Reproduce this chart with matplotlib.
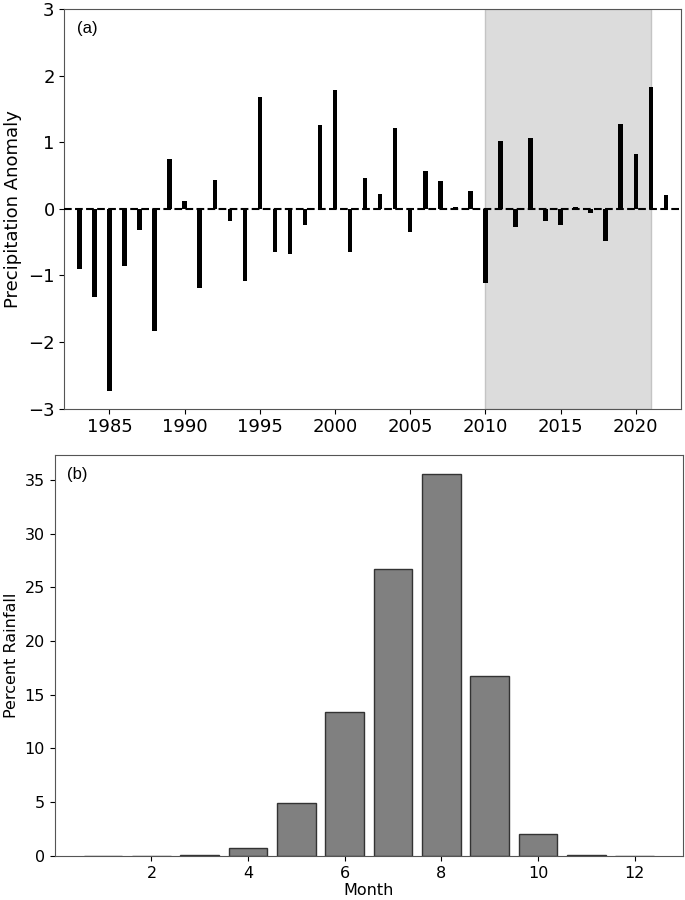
import matplotlib

matplotlib.use("Agg")
import matplotlib.pyplot as plt

# (a) annual precipitation anomaly
years = list(range(1983, 2023))
anomaly = [
    -0.90, -1.33, -2.73, -0.86, -0.32, -1.83, 0.75, 0.12, -1.19, 0.43,
    -0.18, -1.08, 1.68, -0.65, -0.68, -0.24, 1.26, 1.79, -0.65, 0.46,
    0.22, 1.21, -0.35, 0.57, 0.41, 0.03, 0.26, -1.12, 1.02, -0.28,
    1.07, -0.19, -0.25, 0.03, -0.07, -0.49, 1.27, 0.82, 1.83, 0.20,
]
shade_start, shade_end = 2010, 2021

# (b) monthly share of rainfall
months = list(range(1, 13))
percent = [0.0, 0.03, 0.12, 0.78, 4.9, 13.35, 26.7, 35.5, 16.75, 2.05, 0.05, 0.03]

fig = plt.figure(figsize=(6.85, 9), dpi=100)
ax1 = fig.add_axes([0.094, 0.546, 0.900, 0.444])
ax2 = fig.add_axes([0.080, 0.049, 0.917, 0.445])

ax1.axvspan(shade_start, shade_end, facecolor="#dcdcdc", edgecolor="#c4c4c4", lw=1, zorder=0)
ax1.bar(years, anomaly, width=0.3, color="black", zorder=2)
ax1.axhline(0, color="black", ls="--", lw=1.5, zorder=3)
ax1.set_xlim(1982, 2023)
ax1.set_ylim(-3, 3)
ax1.set_xticks([1985, 1990, 1995, 2000, 2005, 2010, 2015, 2020])
ax1.set_yticks([-3, -2, -1, 0, 1, 2, 3])
ax1.tick_params(labelsize=13)
ax1.set_ylabel("Precipitation Anomaly", fontsize=13)
ax1.text(0.02, 0.97, "(a)", transform=ax1.transAxes, fontsize=12,
         family="Liberation Sans", va="top", ha="left")

ax2.bar(months, percent, width=0.8, color="#808080", edgecolor="#333333", lw=1)
ax2.set_xlim(0, 13)
ax2.set_xticks([2, 4, 6, 8, 10, 12])
ax2.set_yticks([0, 5, 10, 15, 20, 25, 30, 35])
ax2.tick_params(labelsize=11.5)
ax2.set_xlabel("Month", fontsize=11.5, labelpad=2)
ax2.set_ylabel("Percent Rainfall", fontsize=11.5)
ax2.text(0.02, 0.97, "(b)", transform=ax2.transAxes, fontsize=12,
         family="Liberation Sans", va="top", ha="left")

for ax in (ax1, ax2):
    for spine in ax.spines.values():
        spine.set_color("#555555")

fig.savefig("out.png", dpi=100)
